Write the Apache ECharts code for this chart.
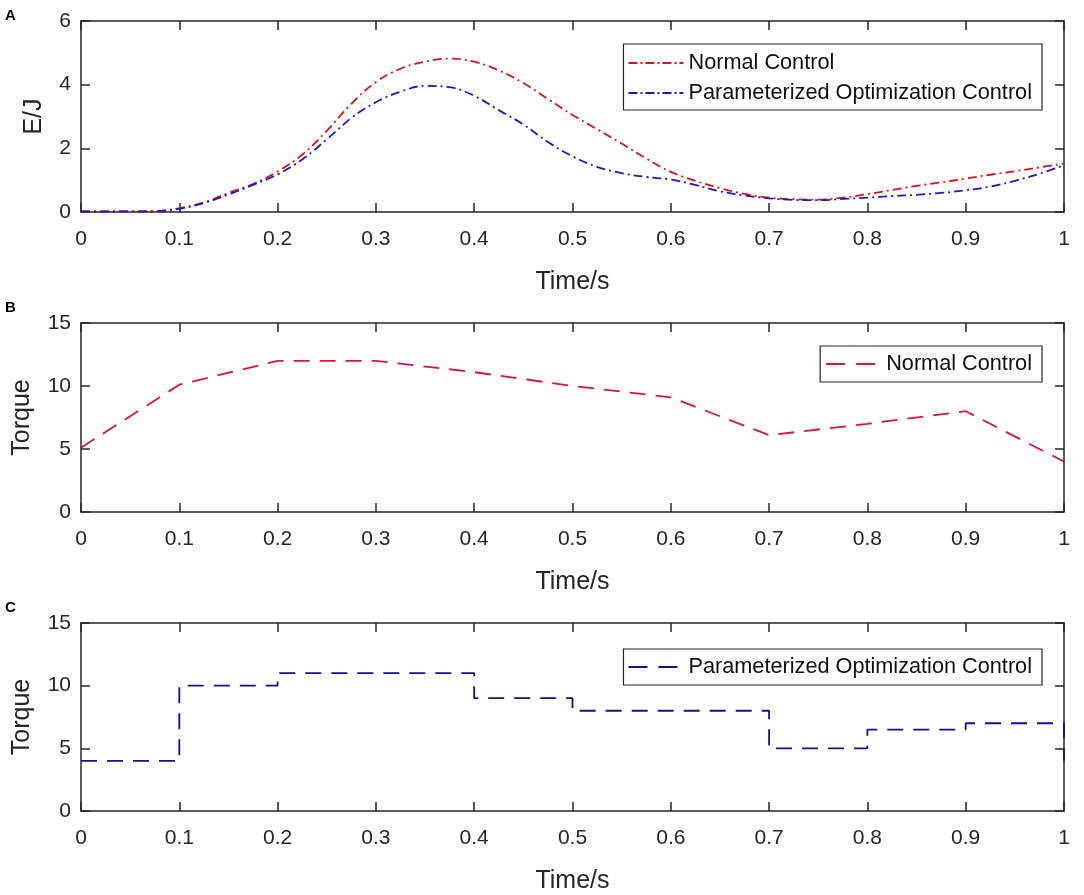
<!DOCTYPE html>
<html>
<head>
<meta charset="utf-8">
<title>Energy and torque</title>
<script src="https://cdn.jsdelivr.net/npm/echarts@6/dist/echarts.min.js"></script>
<style>
  html, body { margin: 0; padding: 0; background: #fff; }
  #main { width: 1084px; height: 895px; }
</style>
</head>
<body>
<div id="main"></div>
<script>
// panel A: energy
const timeE = [0, 0.025, 0.05, 0.075, 0.1, 0.125, 0.15, 0.175, 0.2, 0.225, 0.25, 0.275, 0.3, 0.325, 0.35, 0.375,
  0.4, 0.425, 0.45, 0.475, 0.5, 0.525, 0.55, 0.575, 0.6, 0.625, 0.65, 0.675, 0.7, 0.725, 0.75, 0.775,
  0.8, 0.825, 0.85, 0.875, 0.9, 0.925, 0.95, 0.975, 1]
const normalE = [0.02, 0.02, 0.02, 0.03, 0.12, 0.3, 0.6, 0.88, 1.27, 1.8, 2.55, 3.4, 4.08, 4.5, 4.72, 4.82,
  4.72, 4.45, 4.05, 3.55, 3.05, 2.6, 2.15, 1.68, 1.26, 0.98, 0.75, 0.57, 0.45, 0.4, 0.39, 0.45,
  0.56, 0.69, 0.82, 0.93, 1.05, 1.17, 1.28, 1.4, 1.52]
const paramE = [0.02, 0.02, 0.02, 0.02, 0.1, 0.28, 0.55, 0.85, 1.18, 1.65, 2.28, 2.95, 3.45, 3.78, 3.96, 3.92,
  3.65, 3.2, 2.75, 2.2, 1.75, 1.42, 1.22, 1.1, 1.02, 0.85, 0.65, 0.52, 0.43, 0.38, 0.37, 0.41,
  0.45, 0.5, 0.54, 0.6, 0.68, 0.8, 0.98, 1.2, 1.47]

// panel B / C: torque
const timeT = [0, 0.1, 0.2, 0.3, 0.4, 0.5, 0.6, 0.7, 0.8, 0.9, 1]
const normalTorque = [5.1, 10.1, 12, 12, 11.1, 10, 9.1, 6.1, 7, 8, 4]
const paramTorque = [4, 10, 11, 11, 9, 8, 8, 5, 6.5, 7, 4]

const nameNormal = 'Normal Control'
const nameParam = 'Parameterized Optimization Control'
const panelLabels = ['A', 'B', 'C']

const FONT = 'Liberation Sans, Arial, Helvetica, sans-serif'
const AXIS_COLOR = '#262626'

const zip = (xs, ys) => xs.map((x, i) => [x, ys[i]])

const grids = [
  { left: 81, width: 983, top: 21, height: 191 },
  { left: 81, width: 983, top: 323, height: 189 },
  { left: 81, width: 983, top: 623, height: 189 }
]

const yRanges = [
  { max: 6, interval: 2, name: 'E/J', gap: 34 },
  { max: 15, interval: 5, name: 'Torque', gap: 46 },
  { max: 15, interval: 5, name: 'Torque', gap: 46 }
]

const lineOf = { show: true, onZero: false, lineStyle: { color: AXIS_COLOR, width: 1.5 } }
const tickOf = { show: true, inside: true, length: 9, lineStyle: { color: AXIS_COLOR, width: 1.5 } }

const xAxis = []
const yAxis = []
grids.forEach((g, i) => {
  // bottom axis
  xAxis.push({
    type: 'value', gridIndex: i, min: 0, max: 1, interval: 0.1, position: 'bottom',
    name: 'Time/s', nameLocation: 'middle', nameGap: 58,
    nameTextStyle: { fontSize: 25, color: AXIS_COLOR, fontFamily: FONT },
    axisLine: lineOf, axisTick: tickOf,
    axisLabel: { fontSize: 21, color: AXIS_COLOR, fontFamily: FONT, margin: 17 },
    splitLine: { show: false }
  })
  // top axis (mirror ticks)
  xAxis.push({
    type: 'value', gridIndex: i, min: 0, max: 1, interval: 0.1, position: 'top',
    axisLine: lineOf, axisTick: tickOf,
    axisLabel: { show: false },
    splitLine: { show: false }
  })
  const r = yRanges[i]
  yAxis.push({
    type: 'value', gridIndex: i, min: 0, max: r.max, interval: r.interval, position: 'left',
    name: r.name, nameLocation: 'middle', nameGap: r.gap, nameRotate: 90,
    nameTextStyle: { fontSize: 25, color: AXIS_COLOR, fontFamily: FONT },
    axisLine: lineOf, axisTick: tickOf,
    axisLabel: { fontSize: 21, color: AXIS_COLOR, fontFamily: FONT, margin: 10 },
    splitLine: { show: false }
  })
  yAxis.push({
    type: 'value', gridIndex: i, min: 0, max: r.max, interval: r.interval, position: 'right',
    axisLine: lineOf, axisTick: tickOf,
    axisLabel: { show: false },
    splitLine: { show: false }
  })
})

const dashDot = [9, 4, 2, 4]
const dashed = [16, 10]

const series = [
  {
    name: 'A:' + nameNormal, type: 'line', xAxisIndex: 0, yAxisIndex: 0,
    data: zip(timeE, normalE), smooth: 0.4, symbol: 'none',
    lineStyle: { color: '#e0101a', width: 1.8, type: dashDot }, itemStyle: { color: '#e0101a' }
  },
  {
    name: 'A:' + nameParam, type: 'line', xAxisIndex: 0, yAxisIndex: 0,
    data: zip(timeE, paramE), smooth: 0.4, symbol: 'none',
    lineStyle: { color: '#1a1acc', width: 1.8, type: dashDot }, itemStyle: { color: '#1a1acc' }
  },
  {
    name: 'B:' + nameNormal, type: 'line', xAxisIndex: 2, yAxisIndex: 2,
    data: zip(timeT, normalTorque), symbol: 'none',
    lineStyle: { color: '#dc143c', width: 1.8, type: dashed }, itemStyle: { color: '#dc143c' }
  },
  {
    name: 'C:' + nameParam, type: 'line', xAxisIndex: 4, yAxisIndex: 4,
    data: zip(timeT, paramTorque), step: 'end', symbol: 'none',
    lineStyle: { color: '#10109a', width: 1.8, type: dashed }, itemStyle: { color: '#10109a' }
  }
]

const legendBase = {
  orient: 'vertical', right: 42, selectedMode: false,
  backgroundColor: '#fff', borderColor: AXIS_COLOR, borderWidth: 1.2, borderRadius: 0,
  itemWidth: 55, itemHeight: 14, itemGap: 8,
  itemStyle: { opacity: 0 },
  textStyle: { fontSize: 21.7, color: '#111', fontFamily: FONT },
  formatter: n => n.slice(2)
}

const option = {
  backgroundColor: '#fff',
  animation: false,
  title: panelLabels.map((t, i) => ({
    text: t, left: 5, top: [8, 300, 600][i], padding: 0,
    textStyle: { fontSize: 15, fontWeight: 'bold', color: '#000', fontFamily: FONT }
  })),
  grid: grids,
  xAxis: xAxis,
  yAxis: yAxis,
  legend: [
    Object.assign({}, legendBase, {
      top: 44, padding: [8, 10, 6, 4], data: ['A:' + nameNormal, 'A:' + nameParam],
      lineStyle: { type: [9, 3, 2, 3] }
    }),
    Object.assign({}, legendBase, {
      top: 346, padding: [7, 10, 7, 5], data: ['B:' + nameNormal],
      lineStyle: { type: [19, 11] }
    }),
    Object.assign({}, legendBase, {
      top: 649, padding: [7, 10, 7, 4], data: ['C:' + nameParam],
      lineStyle: { type: [19, 11] }
    })
  ],
  series: series
}

const chart = echarts.init(document.getElementById('main'))
chart.setOption(option)
window.addEventListener('resize', function () {
  chart.resize()
})
</script>
</body>
</html>
